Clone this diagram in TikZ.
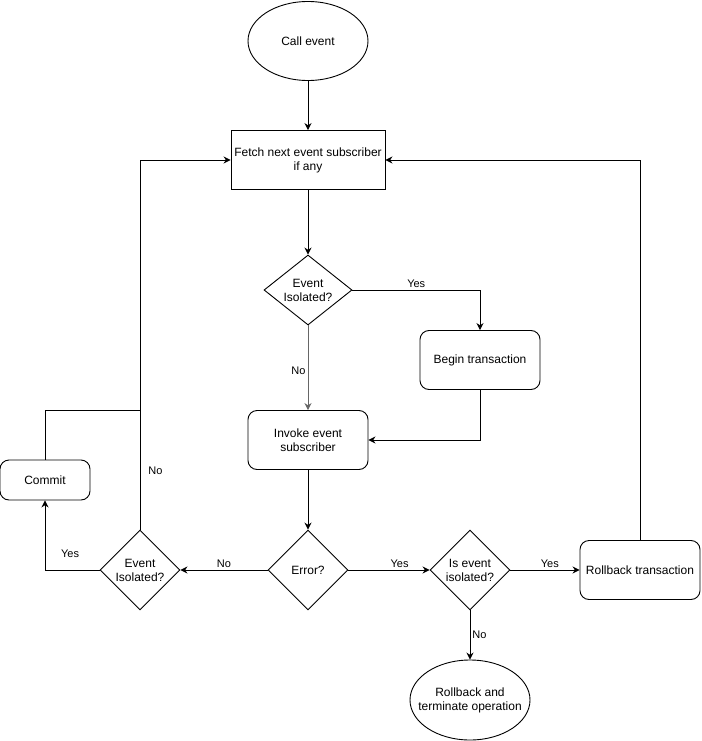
\documentclass[tikz,border=0pt]{standalone}
\usepackage{fontspec}
\setmainfont{Liberation Sans}
\usetikzlibrary{shapes.geometric, arrows.meta}

\begin{document}
\begin{tikzpicture}[
  x=1pt, y=-1pt,
  font=\fontsize{12}{14}\selectfont,
  term/.style={draw, line width=0.9pt, ellipse, minimum width=120pt, minimum height=79pt,
               inner sep=0pt, align=center},
  blk/.style={draw, line width=0.9pt, rectangle, minimum width=154pt, minimum height=59pt,
              inner sep=2pt, align=center},
  rblk/.style={draw, line width=0.9pt, rectangle, rounded corners=9pt, minimum width=120pt,
               minimum height=59pt, inner sep=2pt, align=center},
  dec/.style={draw, line width=0.9pt, diamond, minimum width=80pt, minimum height=80pt,
              inner sep=0pt, align=center},
  lbl/.style={font=\fontsize{11}{13}\selectfont, inner sep=2pt},
  arr/.style={-{Stealth[length=7pt, width=7pt]}, line width=0.9pt}
]
\useasboundingbox (0,0) rectangle (701,741);

% nodes
\node[term] (call) at (308, 41) {Call event};
\node[blk]  (fetch) at (308, 160) {Fetch next event subscriber\\if any};
\node[dec, minimum width=88pt, minimum height=70pt, aspect=1.26] (iso1) at (308, 290) {Event\\Isolated?};
\node[rblk] (begin) at (480, 360) {Begin transaction};
\node[rblk] (invoke) at (308, 440) {Invoke event\\subscriber};
\node[dec]  (err) at (308, 570) {Error?};
\node[dec]  (iso2) at (140, 570) {Event\\Isolated?};
\node[rblk, minimum width=90pt, minimum height=40pt] (commit) at (45, 480) {Commit};
\node[dec]  (iso3) at (470, 570) {Is event\\isolated?};
\node[rblk] (rbt) at (640, 570) {Rollback transaction};
\node[term, minimum height=80pt] (rbterm) at (470, 700)
  {\makebox[60pt][c]{Rollback and}\\\makebox[60pt][c]{terminate operation}};
\coordinate (join) at (140, 410);

% connectors
\draw[arr] (call) -- (fetch);
\draw[arr] (fetch) -- (iso1);
\draw[arr] (iso1.east) -| node[lbl, pos=0.25, above] {Yes} (begin.north);
\draw[arr, draw=black!60] (iso1.south) -- node[lbl, left, pos=0.54] {No} (invoke.north);
\draw[arr] (begin.south) |- (invoke.east);
\draw[arr] (invoke) -- (err);
\draw[arr] (err.west) -- node[lbl, above] {No} (iso2.east);
\draw[arr] (err.east) -- node[lbl, above, pos=0.63] {Yes} (iso3.west);
\draw[arr] (iso3.east) -- node[lbl, above, pos=0.57] {Yes} (rbt.west);
\draw[arr] (iso3.south) -- node[lbl, right] {No} (rbterm.north);
\draw[arr] (rbt.north) |- (fetch.east);
\draw[arr] (iso2.west) -| node[lbl, pos=0.27, above, yshift=10pt] {Yes} (commit.south);
\draw[arr] (iso2.north) |- node[lbl, pos=0.08, right, xshift=6pt] {No} (fetch.west);
\draw[line width=0.9pt] (commit.north) |- (join);
\end{tikzpicture}
\end{document}
